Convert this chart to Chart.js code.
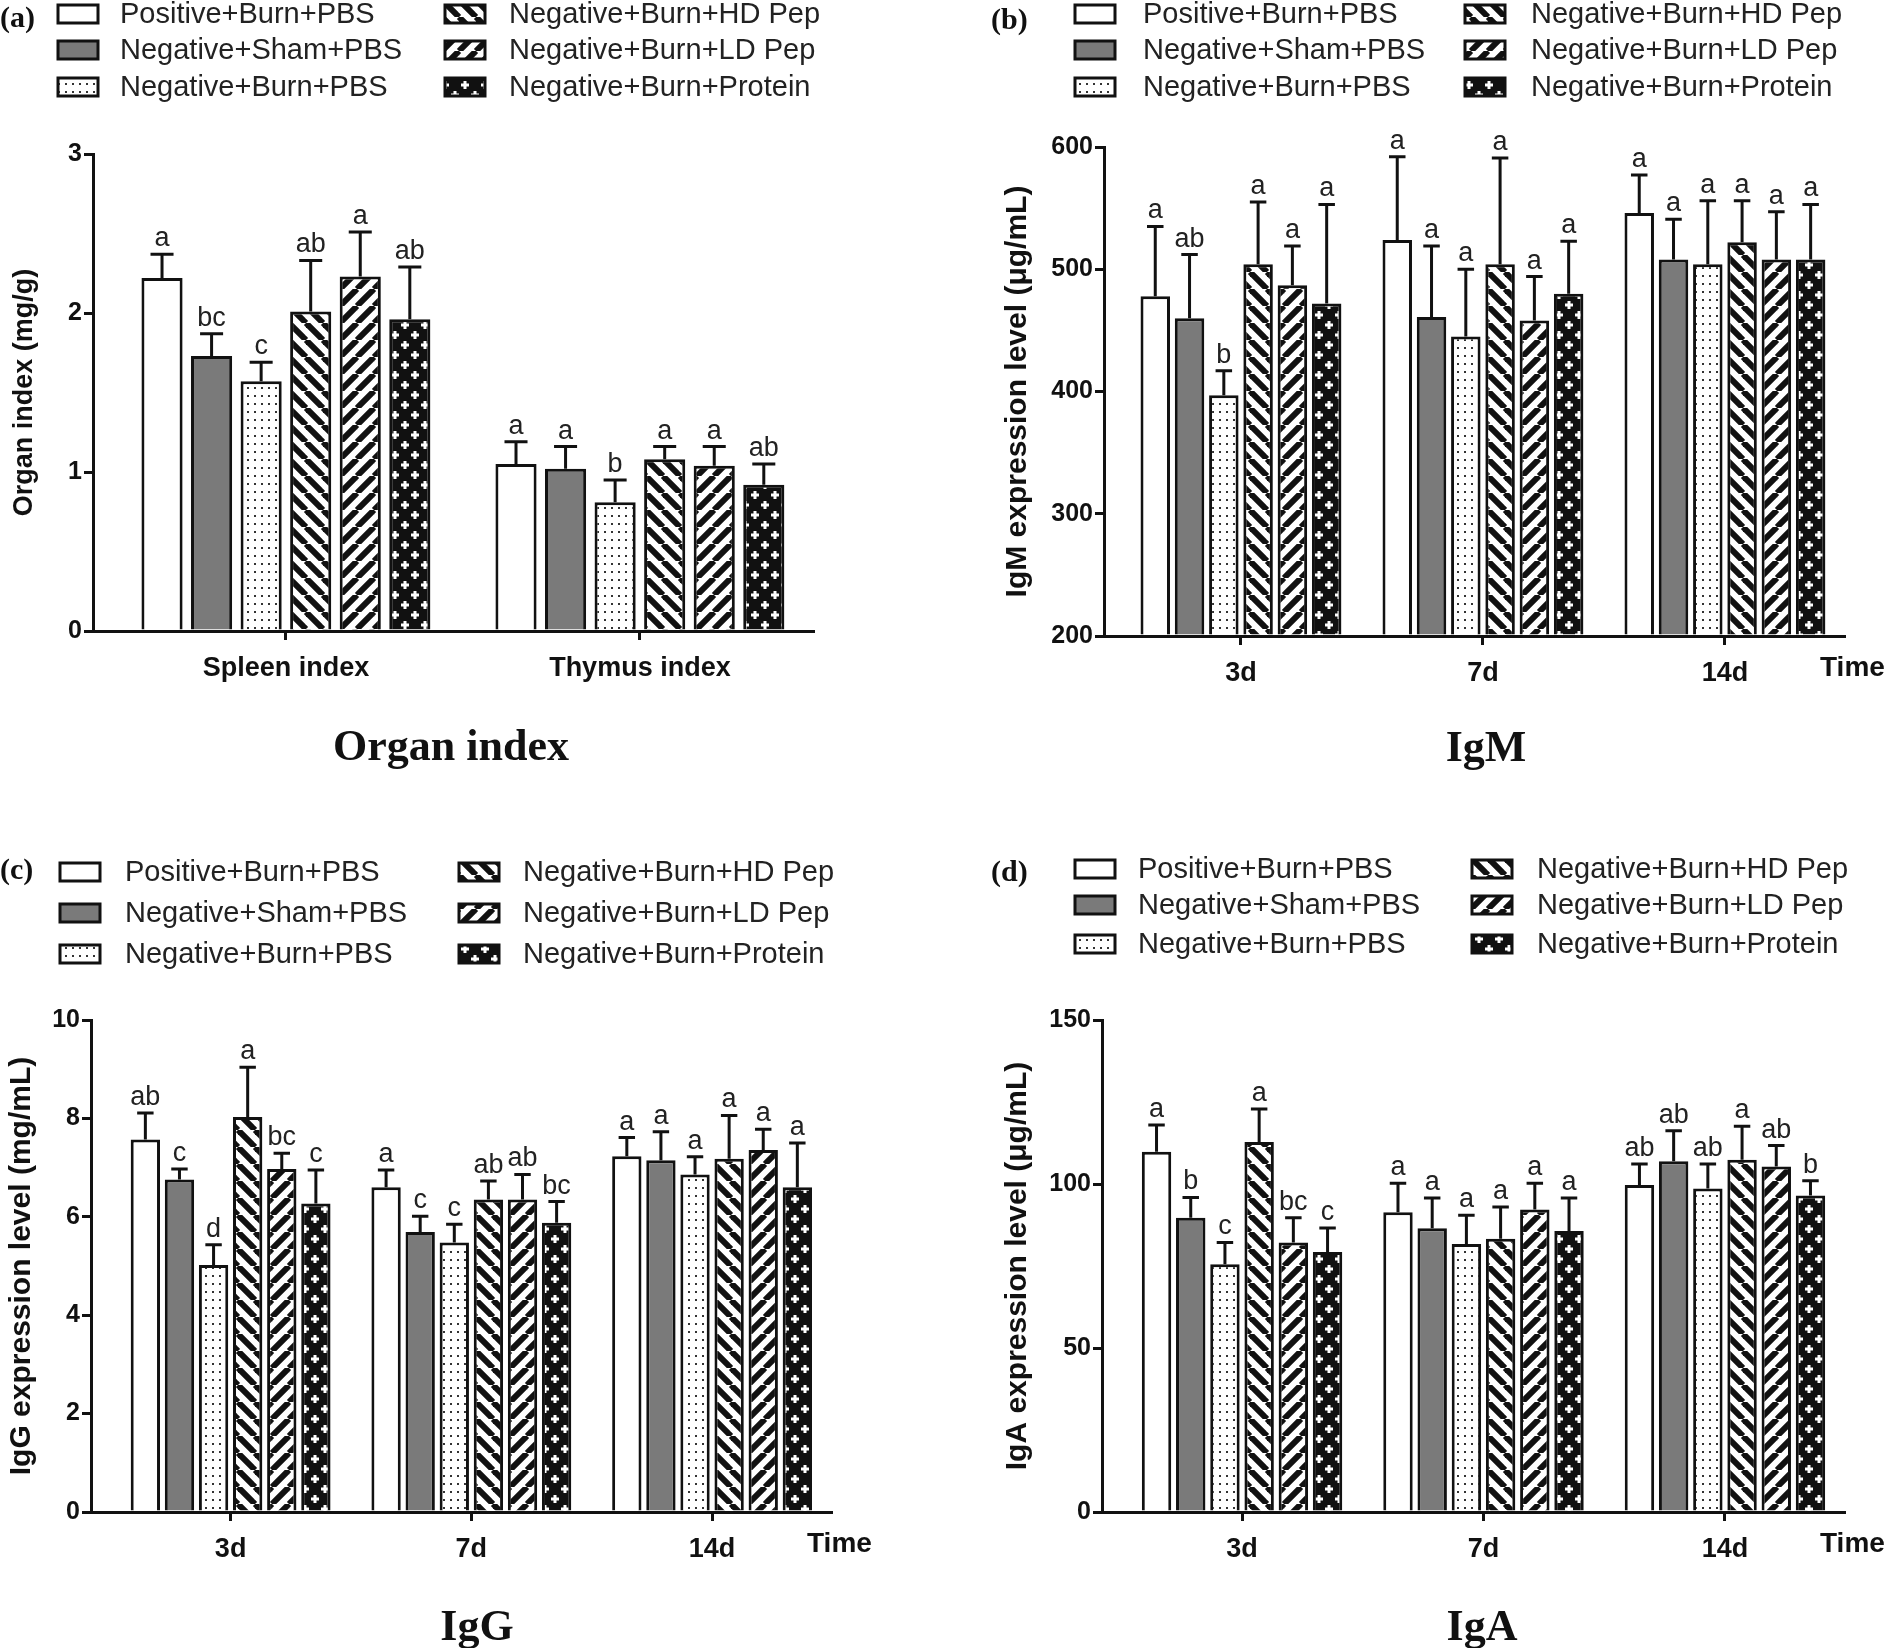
<!DOCTYPE html>
<html lang="en">
<head>
  <meta charset="UTF-8">
  <title>Organ index, IgM, IgG, IgA</title>
  <script src="https://cdn.jsdelivr.net/npm/chart.js"></script>
  <style>
    body { margin: 0; background: #fff; }
    #page { position: relative; width: 1888px; height: 1648px; overflow: hidden; background: #fff; }
    .panel { position: absolute; width: 944px; }
    .tag { position: absolute; font: bold 30px "Liberation Serif", "Times New Roman", serif; color: #111; }
    .title { position: absolute; font: bold 44px "Liberation Serif", "Times New Roman", serif; color: #111;
             transform: translate(-50%, -50%); white-space: nowrap; }
  </style>
</head>
<body>
<div id="page">
  <div class="panel" style="left:0;top:0;height:780px"><canvas id="chartOrgan"></canvas></div>
  <div class="panel" style="left:944px;top:0;height:780px"><canvas id="chartIgM"></canvas></div>
  <div class="panel" style="left:0;top:824px;height:824px"><canvas id="chartIgG"></canvas></div>
  <div class="panel" style="left:944px;top:824px;height:824px"><canvas id="chartIgA"></canvas></div>

  <div class="tag" style="left:0;top:0">(a)</div>
  <div class="tag" style="left:991px;top:2px">(b)</div>
  <div class="tag" style="left:0;top:852px">(c)</div>
  <div class="tag" style="left:991px;top:854px">(d)</div>

  <div class="title" style="left:451px;top:745px">Organ index</div>
  <div class="title" style="left:1486px;top:746px">IgM</div>
  <div class="title" style="left:477px;top:1625px">IgG</div>
  <div class="title" style="left:1482px;top:1625px">IgA</div>
</div>

<script>
  // groups (one dataset each)
  const groups = ['Positive+Burn+PBS', 'Negative+Sham+PBS', 'Negative+Burn+PBS',
                  'Negative+Burn+HD Pep', 'Negative+Burn+LD Pep', 'Negative+Burn+Protein'];
  const organCats = ['Spleen index', 'Thymus index'];
  const timeCats = ['3d', '7d', '14d'];

  // (a) organ index, mg/g  [spleen, thymus]
  const organMean = [[2.22, 1.05], [1.73, 1.02], [1.57, 0.81], [2.01, 1.08], [2.23, 1.04], [1.96, 0.92]];
  const organTop  = [[2.37, 1.19], [1.87, 1.16], [1.69, 0.95], [2.33, 1.16], [2.51, 1.16], [2.29, 1.05]];
  const organSig  = [['a', 'a'], ['bc', 'a'], ['c', 'b'], ['ab', 'a'], ['a', 'a'], ['ab', 'ab']];

  // (b) IgM, ug/mL  [3d, 7d, 14d]
  const igmMean = [[478, 524, 546], [460, 461, 508], [397, 445, 504], [504, 504, 522], [487, 458, 508], [472, 480, 508]];
  const igmTop  = [[535, 592, 577], [512, 519, 541], [417, 500, 556], [555, 591, 556], [519, 494, 547], [553, 523, 553]];
  const igmSig  = [['a', 'a', 'a'], ['ab', 'a', 'a'], ['b', 'a', 'a'], ['a', 'a', 'a'], ['a', 'a', 'a'], ['a', 'a', 'a']];

  // (c) IgG, mg/mL
  const iggMean = [[7.57, 6.60, 7.23], [6.76, 5.69, 7.15], [5.02, 5.48, 6.86], [8.03, 6.35, 7.18], [6.97, 6.35, 7.36], [6.27, 5.88, 6.60]];
  const iggTop  = [[8.11, 6.95, 7.61], [6.97, 6.01, 7.73], [5.43, 5.85, 7.22], [9.04, 6.73, 8.06], [7.29, 6.86, 7.78], [6.95, 6.31, 7.50]];
  const iggSig  = [['ab', 'a', 'a'], ['c', 'c', 'a'], ['d', 'c', 'a'], ['a', 'ab', 'a'], ['bc', 'ab', 'a'], ['c', 'bc', 'a']];

  // (d) IgA, ug/mL
  const igaMean = [[109.8, 91.4, 99.7], [89.7, 86.5, 106.9], [75.5, 81.7, 98.6], [112.8, 83.3, 107.4], [82.2, 92.2, 105.3], [79.3, 85.7, 96.5]];
  const igaTop  = [[118.0, 100.2, 106.1], [95.9, 95.7, 116.2], [82.2, 90.5, 106.1], [122.9, 93.0, 117.6], [89.7, 100.2, 111.7], [86.6, 95.7, 101.0]];
  const igaSig  = [['a', 'a', 'ab'], ['b', 'a', 'ab'], ['c', 'a', 'ab'], ['a', 'a', 'a'], ['bc', 'a', 'ab'], ['c', 'a', 'b']];

  const INK = '#111';
  Chart.defaults.font.family = '"Liberation Sans", Arial, sans-serif';
  Chart.defaults.color = INK;

  // category axis whose outer gaps are not exactly half a category (GraphPad style)
  const BaseCategory = Chart.CategoryScale || Chart.registry.getScale('category');
  class GapCategoryScale extends BaseCategory {
    configure() {
      super.configure();
      const lo = this.options.gapStart ?? 0.5;
      const hi = this.options.gapEnd ?? 0.5;
      this._startValue = this.min - lo;
      this._valueRange = this.max - this.min + lo + hi;
    }
  }
  GapCategoryScale.id = 'gapCategory';
  GapCategoryScale.defaults = BaseCategory.defaults;
  Chart.register(GapCategoryScale);

  // fill patterns
  const makePattern = (w, h, draw) => {
    const c = document.createElement('canvas');
    c.width = w; c.height = h;
    const g = c.getContext('2d');
    draw(g, w, h);
    return g.createPattern(c, 'repeat');
  };
  const dotFill = makePattern(7, 8, (g, w, h) => {
    g.fillStyle = '#fff'; g.fillRect(0, 0, w, h);
    g.fillStyle = '#333';
    g.fillRect(2, 3, 2, 2);
  });
  const stripe = (dir) => makePattern(17, 17, (g, s) => {
    g.fillStyle = '#fff'; g.fillRect(0, 0, s, s);
    g.strokeStyle = INK; g.lineWidth = 6;
    for (const k of [-1, 0, 1]) {
      g.beginPath();
      if (dir === 'back') { g.moveTo(k * s, 0); g.lineTo(k * s + s, s); }
      else { g.moveTo(k * s, s); g.lineTo(k * s + s, 0); }
      g.stroke();
    }
  });
  const crossFill = makePattern(20, 20, (g) => {
    g.fillStyle = INK; g.fillRect(0, 0, 20, 20);
    g.fillStyle = '#fff';
    for (const [cx, cy] of [[5, 5], [15, 15]]) {
      g.fillRect(cx - 4, cy - 1.5, 8, 3);
      g.fillRect(cx - 1.5, cy - 4, 3, 8);
    }
  });
  const fills = ['#ffffff', '#7a7a7a', dotFill, stripe('back'), stripe('fwd'), crossFill];

  // error bars + significance letters
  const errBars = {
    id: 'errBars',
    afterDatasetsDraw(chart, args, opts) {
      const ctx = chart.ctx;
      const yScale = chart.scales.y;
      ctx.save();
      ctx.strokeStyle = INK;
      ctx.lineWidth = 3;
      ctx.fillStyle = '#222';
      ctx.font = '27px "Liberation Sans", Arial, sans-serif';
      ctx.textAlign = 'center';
      ctx.textBaseline = 'bottom';
      chart.data.datasets.forEach((ds, i) => {
        const meta = chart.getDatasetMeta(i);
        meta.data.forEach((bar, j) => {
          const yTop = yScale.getPixelForValue(opts.top[i][j]);
          const half = bar.width * 0.28;
          ctx.beginPath();
          ctx.moveTo(bar.x, bar.y);
          ctx.lineTo(bar.x, yTop);
          ctx.moveTo(bar.x - half, yTop);
          ctx.lineTo(bar.x + half, yTop);
          ctx.stroke();
          ctx.fillText(opts.sig[i][j], bar.x, yTop - 2);
        });
      });
      ctx.restore();
    }
  };

  // two-column legend drawn in the canvas
  const boxLegend = {
    id: 'boxLegend',
    afterDraw(chart, args, opts) {
      const ctx = chart.ctx;
      ctx.save();
      ctx.font = '29px "Liberation Sans", Arial, sans-serif';
      ctx.textBaseline = 'middle';
      ctx.textAlign = 'left';
      groups.forEach((g, i) => {
        const col = i < 3 ? 0 : 1;
        const y = opts.rows[i % 3];
        const bx = col ? opts.box2 : opts.box1;
        const tx = col ? opts.text2 : opts.text1;
        ctx.fillStyle = fills[i];
        ctx.fillRect(bx, y - 9, 40, 18);
        ctx.strokeStyle = INK;
        ctx.lineWidth = 3;
        ctx.strokeRect(bx, y - 9, 40, 18);
        ctx.fillStyle = '#222';
        ctx.fillText(g, tx, y + 1);
      });
      ctx.restore();
    }
  };

  // "Time" label at the end of the x axis
  const timeLabel = {
    id: 'timeLabel',
    afterDraw(chart, args, opts) {
      if (!opts.show) return;
      const ctx = chart.ctx;
      const area = chart.chartArea;
      ctx.save();
      ctx.font = 'bold 28px "Liberation Sans", Arial, sans-serif';
      ctx.fillStyle = INK;
      ctx.textBaseline = 'middle';
      ctx.textAlign = 'left';
      ctx.fillText('Time', area.right - 24, area.bottom + 32);
      ctx.restore();
    }
  };

  function makeChart(id, p) {
    const datasets = groups.map((g, i) => ({
      label: g,
      data: p.mean[i],
      base: p.min,
      backgroundColor: fills[i],
      borderColor: INK,
      borderWidth: 3,
      categoryPercentage: p.catPct,
      barPercentage: p.barPct
    }));
    return new Chart(document.getElementById(id), {
      type: 'bar',
      data: { labels: p.cats, datasets },
      options: {
        responsive: true,
        maintainAspectRatio: false,
        animation: false,
        layout: { padding: p.pad },
        scales: {
          x: {
            type: 'gapCategory',
            offset: true,
            gapStart: p.gaps[0],
            gapEnd: p.gaps[1],
            grid: { display: true, drawOnChartArea: false, offset: false, color: INK, lineWidth: 3, tickLength: 9 },
            border: { display: true, color: INK, width: 3 },
            ticks: { font: { size: 27, weight: 'bold' }, padding: 12, color: INK },
            afterFit: (s) => { s.height = 80; }
          },
          y: {
            min: p.min, max: p.max,
            ticks: { stepSize: p.step, font: { size: 25, weight: 'bold' }, padding: 2, color: INK },
            grid: { display: true, drawOnChartArea: false, color: INK, lineWidth: 3, tickLength: 9 },
            border: { display: true, color: INK, width: 3 },
            title: { display: true, text: p.yTitle, font: { size: p.yTitleSize, weight: 'bold' }, color: INK, padding: { top: 4, bottom: 4 } },
            afterFit: (s) => { s.width = p.yWidth; }
          }
        },
        plugins: {
          legend: { display: false },
          tooltip: { enabled: false },
          errBars: { top: p.top, sig: p.sig },
          boxLegend: p.legend,
          timeLabel: { show: p.time }
        }
      },
      plugins: [errBars, boxLegend, timeLabel]
    });
  }

  makeChart('chartOrgan', {
    cats: organCats, mean: organMean, top: organTop, sig: organSig,
    min: 0, max: 3, step: 1, yTitle: 'Organ index (mg/g)', yTitleSize: 27,
    pad: { left: 4, top: 154, right: 131, bottom: 69 }, yWidth: 89, gaps: [0.545, 0.489],
    catPct: 0.84, barPct: 0.83, time: false,
    legend: { box1: 58, text1: 120, box2: 445, text2: 509, rows: [14, 50, 87] }
  });

  makeChart('chartIgM', {
    cats: timeCats, mean: igmMean, top: igmTop, sig: igmSig,
    min: 200, max: 600, step: 100, yTitle: 'IgM expression level (\u03bcg/mL)', yTitleSize: 30,
    pad: { left: 52, top: 147, right: 44, bottom: 64 }, yWidth: 108, gaps: [0.566, 0.492],
    catPct: 0.85, barPct: 0.86, time: true,
    legend: { box1: 131, text1: 199, box2: 521, text2: 587, rows: [14, 50, 87] }
  });

  makeChart('chartIgG', {
    cats: timeCats, mean: iggMean, top: iggTop, sig: iggSig,
    min: 0, max: 10, step: 2, yTitle: 'IgG expression level (mg/mL)', yTitleSize: 30,
    pad: { left: 0, top: 196, right: 113, bottom: 56 }, yWidth: 91, gaps: [0.58, 0.494],
    catPct: 0.85, barPct: 0.86, time: true,
    legend: { box1: 60, text1: 125, box2: 459, text2: 523, rows: [48, 89, 130] }
  });

  makeChart('chartIgA', {
    cats: timeCats, mean: igaMean, top: igaTop, sig: igaSig,
    min: 0, max: 150, step: 50, yTitle: 'IgA expression level (\u03bcg/mL)', yTitleSize: 30,
    pad: { left: 52, top: 196, right: 44, bottom: 56 }, yWidth: 106, gaps: [0.58, 0.493],
    catPct: 0.85, barPct: 0.86, time: true,
    legend: { box1: 131, text1: 194, box2: 528, text2: 593, rows: [45, 81, 120] }
  });
</script>
</body>
</html>
